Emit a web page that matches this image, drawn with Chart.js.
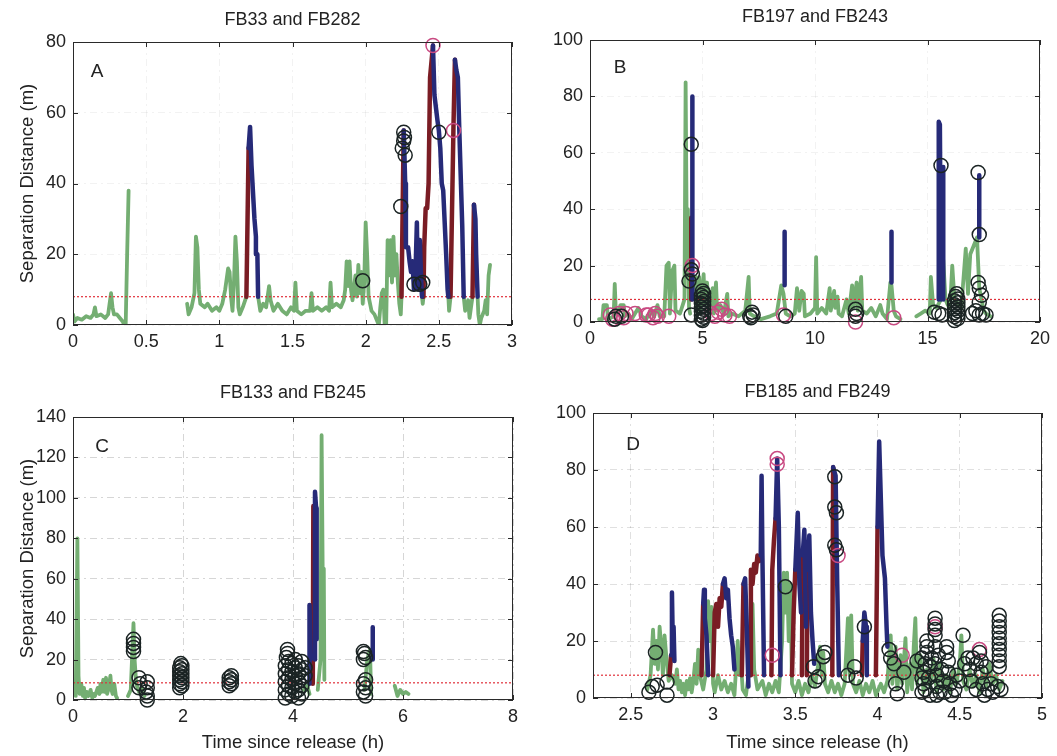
<!DOCTYPE html>
<html><head><meta charset="utf-8">
<script src="https://cdn.jsdelivr.net/npm/chart.js"></script>
<style>
html,body{margin:0;padding:0;background:#fff;}
#wrap{position:relative;width:1057px;height:756px;overflow:hidden;background:#fff;}
canvas{position:absolute;}
</style></head><body><div id="wrap">
<canvas id="cA" width="530" height="360" style="left:0;top:0"></canvas>
<canvas id="cB" width="527" height="360" style="left:530px;top:0"></canvas>
<canvas id="cC" width="530" height="396" style="left:0;top:360px"></canvas>
<canvas id="cD" width="527" height="396" style="left:530px;top:360px"></canvas>
</div>
<script>
// ---------- Panel A : FB33 and FB282 ----------
const aTitle = 'FB33 and FB282';
const aXTicks = [0, 0.5, 1, 1.5, 2, 2.5, 3];
const aYTicks = [0, 20, 40, 60, 80];
const aThreshold = 8;
const aGreen = [[0,3],[0.01,1],[0.03,2],[0.06,1.5],[0.09,2.5],[0.12,2],[0.14,3],[0.15,5],[0.16,2.5],[0.19,3],[0.22,2],[0.24,3],[0.25,6],[0.26,9],[0.27,5],[0.28,3],[0.3,3],[0.32,2],[0.34,1],[0.35,0],[0.36,0],[0.37,20],[0.38,38], null,
 [0.78,6],[0.79,3],[0.81,5],[0.83,9],[0.84,25],[0.85,22],[0.86,10],[0.87,6],[0.9,5],[0.92,6],[0.95,4],[0.98,5],[1.0,4],[1.02,6],[1.04,10],[1.06,16],[1.07,15],[1.08,8],[1.09,4],[1.1,12],[1.11,25],[1.12,18],[1.13,5],[1.14,3],[1.16,5],[1.185,8], null,
 [1.265,8],[1.28,4],[1.3,6],[1.32,5],[1.34,11],[1.35,7],[1.37,4],[1.4,6],[1.43,4],[1.46,3],[1.49,5],[1.51,4],[1.52,12],[1.53,4],[1.56,3],[1.59,4],[1.62,4],[1.63,9],[1.64,4],[1.67,5],[1.7,4],[1.73,5],[1.75,4],[1.76,12],[1.77,5],[1.8,6],[1.83,5],[1.85,7],[1.86,10],[1.87,18],[1.88,11],[1.89,18],[1.9,10],[1.91,7],[1.93,14],[1.94,8],[1.95,17],[1.96,9],[1.97,15],[1.98,6],[1.99,12],[2.0,29],[2.01,20],[2.02,8],[2.04,4],[2.06,3],[2.08,1],[2.09,0],[2.1,5],[2.11,9],[2.12,10],[2.13,0],[2.14,0],[2.15,24],[2.16,14],[2.17,24],[2.18,12],[2.19,25],[2.2,14],[2.21,20],[2.22,12],[2.23,6],[2.24,3],[2.245,8], null,
 [2.385,8],[2.39,6],[2.395,8], null,
 [2.565,8],[2.57,4],[2.58,8], null,
 [2.67,8],[2.68,4],[2.7,7],[2.71,2],[2.72,5],[2.73,8], null,
 [2.765,8],[2.77,3],[2.78,0],[2.79,2],[2.81,4],[2.82,7],[2.83,3],[2.84,14],[2.85,17]];
const aRed = [[1.185,8],[1.2,50], null,
 [2.245,8],[2.255,40],[2.26,55], null,
 [2.395,8],[2.4,22],[2.41,33],[2.42,33],[2.43,40],[2.44,70],[2.46,79], null,
 [2.58,8],[2.6,56],[2.61,75], null,
 [2.73,8],[2.74,34]];
const aBlue = [[1.2,50],[1.21,56],[1.22,45],[1.24,30],[1.25,25],[1.25,20],[1.26,20],[1.265,8], null,
 [2.26,55],[2.265,48],[2.27,40],[2.275,22],[2.29,22],[2.3,18],[2.31,15],[2.32,18],[2.33,10],[2.34,14],[2.35,29],[2.355,15],[2.36,10],[2.37,24],[2.38,12],[2.385,8], null,
 [2.46,79],[2.47,65],[2.49,58],[2.5,55],[2.51,50],[2.52,40],[2.53,38],[2.55,20],[2.56,10],[2.565,8], null,
 [2.61,75],[2.62,72],[2.63,70],[2.64,55],[2.66,28],[2.67,8], null,
 [2.74,34],[2.75,30],[2.755,20],[2.765,8]];
const aCirc = [[1.98,12.5],[2.24,33.5],[2.25,50],[2.26,52],[2.26,54.5],[2.265,53],[2.27,48],[2.33,11.5],[2.37,11.5],[2.39,12],[2.5,54.5]];
const aCircM = [[2.46,79],[2.6,55]];

// ---------- Panel B : FB197 and FB243 ----------
const bTitle = 'FB197 and FB243';
const bXTicks = [0, 5, 10, 15, 20];
const bYTicks = [0, 20, 40, 60, 80, 100];
const bThreshold = 8;
const bGreen = [[0.4,1],[0.55,1],[0.6,6],[0.75,6],[0.8,1],[1.05,2],[1.1,13.5],[1.15,3],[1.3,4],[1.35,6],[1.5,6],[1.55,2],[1.7,3],[1.85,1],[2.0,3],[2.15,5],[2.3,2],[2.5,1],[2.7,4],[2.85,2],[3.0,6],[3.1,2],[3.3,2],[3.4,20],[3.5,21],[3.55,3],[3.65,18],[3.75,20],[3.8,4],[4.0,3],[4.2,8],[4.25,85],[4.3,30],[4.35,40],[4.4,5],[4.45,3], null,
 [4.65,8],[4.7,16],[4.75,5],[4.85,16],[4.9,3],[5.05,17],[5.1,6],[5.2,14],[5.3,4],[5.45,12],[5.5,3],[5.6,14],[5.65,4],[5.8,6],[5.95,3],[6.1,10],[6.15,2],[6.3,3],[6.6,2],[6.9,4],[7.0,12],[7.05,16],[7.1,3],[7.3,2],[7.6,1],[8.0,2],[8.3,3],[8.5,13],[8.6,10],[8.7,3],[8.9,2],[9.1,3],[9.2,12],[9.3,4],[9.4,11],[9.5,10],[9.55,2],[9.8,3],[10.0,5],[10.05,23],[10.1,3],[10.3,5],[10.5,3],[10.65,12],[10.7,4],[10.85,11],[10.9,5],[11.0,9],[11.05,3],[11.2,2],[11.4,8],[11.5,3],[11.65,13],[11.7,5],[11.85,14],[11.9,4],[12.05,16],[12.1,4],[12.3,3],[12.5,5],[12.7,2],[12.9,6],[13.0,3],[13.2,1],[13.35,14],[13.4,13],[13.5,4],[13.6,2],[13.8,1], null,
 [14.5,2],[14.7,3],[14.9,4],[15.1,3],[15.15,16],[15.25,6],[15.4,5],[15.6,8],[15.7,22],[15.8,8],[15.9,6],[16.0,5],[16.1,20],[16.2,8],[16.3,7],[16.5,5],[16.7,26],[16.8,10],[16.9,24],[17.0,26],[17.2,30],[17.3,12],[17.4,8],[17.5,4],[17.6,3],[17.8,2]];
const bRed = [[4.5,8],[4.5,37]];
const bBlue = [[4.55,8],[4.55,80], null,[8.65,13],[8.65,32], null,[13.4,14],[13.4,32], null,[15.5,8],[15.5,71],[15.55,70],[15.6,8], null,[15.7,8],[15.7,55], null,[17.3,30],[17.3,52]];
const bCirc = [[1.1,1],[1.15,2],[1.4,2],[4.5,63],[4.5,18.5],[4.55,17],[4.4,14.5],[4.5,2.5],
 [4.95,1],[5.05,1.7],[4.95,2.4],[5.05,3.1],[4.95,3.8],[5.05,4.5],[4.95,5.2],[5.05,5.9],[4.95,6.6],[5.05,7.3],[4.95,8],[5.05,8.7],[4.95,9.4],[5.05,10.1],[5.0,11],[5.0,0.5],
 [7.15,1.5],[7.25,2.5],[7.2,3.5],[7.1,2],[8.7,2],[11.8,2],[11.85,3],[11.8,4.5],
 [15.3,3.5],[15.5,3],[15.65,2.5],[15.6,55.5],
 [16.2,0.5],[16.35,1.2],[16.2,1.9],[16.35,2.6],[16.2,3.3],[16.35,4],[16.2,4.7],[16.35,5.4],[16.2,6.1],[16.35,6.8],[16.2,7.5],[16.35,8.2],[16.25,9],[16.3,10],
 [17.0,3],[17.15,4],[17.3,2.5],[17.45,3],[17.6,2.5],[17.25,53],[17.3,31],[17.25,14],[17.3,12],[17.4,9.5],[17.3,7]];
const bCircM = [[0.9,2.5],[1.0,1],[1.3,3],[1.5,1.5],[1.6,3],[2.0,3],[2.5,2.5],[2.6,2.5],[2.8,1.5],[2.9,3],[3.0,2],[3.5,2],[4.55,20],[5.4,3],[5.55,2],[5.7,3.5],[5.85,4.5],[6.0,2.5],[6.2,2],[8.6,2.5],[11.8,0],[13.5,1.5]];

// ---------- Panel C : FB133 and FB245 ----------
const cTitle = 'FB133 and FB245';
const cXTicks = [0, 2, 4, 6, 8];
const cYTicks = [0, 20, 40, 60, 80, 100, 120, 140];
const cThreshold = 8.5;
const cGreen = [[0.05,2],[0.08,80],[0.1,12],[0.12,3],[0.15,8],[0.18,2],[0.2,6],[0.22,1],[0.25,4],[0.28,2],[0.32,5],[0.35,1],[0.38,3],[0.4,2],[0.45,6],[0.48,3],[0.5,8],[0.52,4],[0.55,10],[0.57,4],[0.6,11],[0.62,3],[0.65,6],[0.68,12],[0.7,5],[0.72,3],[0.75,8],[0.78,2],[0.8,1], null,
 [1.0,2],[1.05,5],[1.1,38],[1.12,20],[1.15,8],[1.2,4],[1.25,6],[1.3,2], null,
 [4.2,5],[4.25,8],[4.3,3], null,
 [4.45,5],[4.5,20],[4.52,131],[4.54,63],[4.56,65],[4.57,10], null,
 [5.3,5],[5.35,20],[5.4,25],[5.42,3], null,
 [5.85,7],[5.9,2],[5.95,5],[6.0,3],[6.05,4],[6.1,3]];
const cRed = [[4.36,8],[4.37,96]];
const cBlue = [[4.3,8],[4.3,47],[4.32,20], null,[4.4,20],[4.4,103],[4.42,95],[4.43,30], null,[5.45,20],[5.45,36]];
const cCirc = [[1.1,24],[1.1,26],[1.1,28],[1.1,30],
 [1.2,11],[1.22,8],[1.2,6],
 [1.35,9],[1.35,6],[1.33,4],[1.35,2],[1.35,0],
 [1.94,6],[1.98,7],[1.94,8],[1.98,9],[1.94,10],[1.98,11],[1.94,12],[1.98,13],[1.94,14],[1.98,15],[1.94,16],[1.98,17],[1.96,18],
 [2.84,7],[2.88,8],[2.84,9],[2.88,10],[2.84,11],[2.88,12],
 [3.9,25],[3.9,23],[3.88,21],
 [3.86,1],[3.92,3],[3.86,5],[3.92,7],[3.86,9],[3.92,11],[3.86,13],[3.92,15],[3.86,17],[3.92,19],
 [3.98,2],[4.04,4],[3.98,6],[4.04,8],[3.98,10],[4.04,12],[3.98,14],[4.04,16],[3.98,18],[4.04,20],
 [4.1,1],[4.16,3],[4.1,5],[4.16,7],[4.1,9],[4.16,11],[4.1,13],[4.16,15],[4.1,17],[4.16,19],[4.22,12],[4.22,16],
 [5.28,20],[5.32,21],[5.3,23],[5.28,24],[5.32,2],[5.28,4],[5.32,6],[5.28,8],[5.32,10]];
const cCircM = [];

// ---------- Panel D : FB185 and FB249 ----------
const dTitle = 'FB185 and FB249';
const dXTicks = [2.5, 3, 3.5, 4, 4.5, 5];
const dYTicks = [0, 20, 40, 60, 80, 100];
const dThreshold = 8;
const dGreen = [[2.6,3],[2.62,8],[2.635,24],[2.645,12],[2.655,20],[2.665,10],[2.675,25],[2.685,18],[2.695,8],[2.705,22],[2.715,15],[2.73,6],[2.75,8],[2.77,5],[2.78,10],[2.79,3],[2.8,6],[2.81,2],[2.82,5],[2.83,1],[2.84,6],[2.85,3],[2.86,7],[2.87,2],[2.88,6],[2.89,12],[2.9,5],[2.91,17],[2.92,8],[2.94,3],[2.96,10],[2.97,34],[2.98,20],[2.99,32],[3.0,5],[3.01,2],[3.03,8],[3.05,3],[3.07,6],[3.09,2],[3.11,5],[3.13,1],[3.15,20],[3.16,8],[3.17,12],[3.18,3],[3.2,1],[3.22,10],[3.23,30],[3.24,33],[3.25,10],[3.27,3],[3.3,6],[3.32,1],[3.34,5],[3.36,2],[3.38,6],[3.4,2],[3.42,20],[3.43,44],[3.44,30],[3.45,44],[3.46,20],[3.47,40],[3.48,5],[3.5,2],[3.52,6],[3.54,1],[3.56,5],[3.58,2],[3.6,8],[3.62,4],[3.64,12],[3.65,18],[3.66,8],[3.67,16],[3.68,5],[3.7,2],[3.72,6],[3.74,2],[3.76,5],[3.78,1],[3.8,5],[3.82,28],[3.83,8],[3.84,29],[3.85,5],[3.87,2],[3.89,6],[3.91,1],[3.93,5],[3.95,2],[3.97,6],[3.99,1],[4.02,5],[4.04,2],[4.06,6],[4.08,22],[4.09,5],[4.11,18],[4.12,3],[4.14,15],[4.15,5],[4.17,21],[4.18,2],[4.2,12],[4.21,3],[4.22,18],[4.23,28],[4.24,5],[4.26,15],[4.28,2],[4.3,10],[4.32,4],[4.34,14],[4.36,2],[4.38,12],[4.4,3],[4.42,8],[4.44,2],[4.46,10],[4.48,5],[4.5,12],[4.51,22],[4.52,6],[4.54,3],[4.56,10],[4.58,4],[4.6,8],[4.62,2],[4.64,10],[4.66,4],[4.68,12],[4.7,5],[4.72,8],[4.74,3],[4.76,6]];
const dRed = [[2.735,8],[2.745,15], null,
 [2.93,8],[2.94,33], null,
 [3.0,8],[3.01,30],[3.02,33],[3.03,25],[3.04,35],[3.05,32],[3.06,40], null,
 [3.175,8],[3.185,40], null,
 [3.225,8],[3.23,45],[3.24,40],[3.25,47],[3.26,44],[3.27,50],[3.28,48],[3.29,50], null,
 [3.355,8],[3.36,45],[3.37,55],[3.38,63], null,
 [3.48,8],[3.49,30],[3.5,45], null,
 [3.54,8],[3.545,50], null,
 [3.57,8],[3.575,45], null,
 [3.725,8],[3.73,81], null,
 [3.905,8],[3.91,20], null,
 [3.99,8],[4.0,60]];
const dBlue = [[2.745,15],[2.75,37],[2.755,20],[2.76,25],[2.765,13], null,
 [2.94,33],[2.945,38],[2.95,28],[2.96,22],[2.97,8], null,
 [3.06,40],[3.07,42],[3.08,35],[3.09,38],[3.1,28],[3.11,22],[3.12,18],[3.13,10], null,
 [3.185,40],[3.195,42],[3.205,25],[3.215,4], null,
 [3.29,50],[3.295,78],[3.3,50],[3.31,8], null,
 [3.38,63],[3.39,84],[3.4,60],[3.41,8], null,
 [3.5,45],[3.515,65],[3.525,40],[3.535,30], null,
 [3.545,50],[3.555,59],[3.565,25], null,
 [3.575,45],[3.585,57],[3.595,30],[3.605,20],[3.615,12], null,
 [3.73,81],[3.745,78],[3.755,40],[3.765,8], null,
 [3.91,20],[3.92,30],[3.93,25],[3.935,8], null,
 [4.0,60],[4.01,90],[4.02,70],[4.03,50],[4.045,42],[4.055,25],[4.06,18]];
const dCirc = [[2.65,16],[2.61,2],[2.63,4],[2.66,4.5],[2.72,5.6],[2.72,1],[3.44,39],[3.61,11],[3.62,6],[3.64,7.5],[3.67,14.5],[3.68,16],
 [3.74,77.6],[3.74,67],[3.75,65],[3.74,53.6],[3.75,52],[3.82,8],[3.87,7],[3.86,11],[3.92,25],
 [4.07,17],[4.08,14],[4.1,12],[4.11,5],[4.12,1.5],[4.16,9],[4.24,13],
 [4.27,2],[4.28,5],[4.28,9],[4.29,12],[4.3,16],[4.3,20],[4.29,3],[4.31,7],[4.32,11],[4.32,1],[4.33,14],[4.3,18],[4.27,14],[4.27,7],
 [4.35,28],[4.35,26],[4.35,24],[4.35,22],[4.35,18],[4.35,12],[4.36,8],[4.36,4],[4.36,1],[4.37,15],[4.38,2],
 [4.39,10],[4.4,6],[4.41,2],[4.42,18],[4.42,16],[4.43,13],[4.43,9],[4.44,5],[4.45,1],[4.47,3],
 [4.48,8],[4.5,6],[4.52,22],[4.53,12],[4.55,14],[4.56,10],[4.57,6],[4.58,14],[4.6,12],[4.6,3],[4.62,16],[4.63,13],[4.63,9],[4.64,5],[4.65,1],[4.66,11],[4.67,3],[4.69,5],[4.7,2],
 [4.74,29],[4.74,27],[4.74,25],[4.74,23],[4.74,21],[4.74,19],[4.74,17],[4.74,15],[4.74,13],[4.74,11],[4.73,4],[4.75,3]];
const dCircM = [[3.39,82],[3.39,84],[3.36,15],[3.76,50],[4.15,15],[4.35,25],[4.62,17]];

const yTitleText = 'Separation Distance (m)';
const xTitleText = 'Time since release (h)';

// ---------- rendering ----------
const FONT = '"Liberation Sans", Arial, Helvetica, sans-serif';
Chart.defaults.font.family = FONT;
Chart.defaults.color = '#222';

function pts(arr) {
  return arr.map((p, i) => p ? {x: p[0], y: p[1]} : {x: arr[i - 1][0], y: null});
}
function fmt(v) { return String(Math.round(v * 100) / 100); }

const framePlugin = {
  id: 'frame',
  afterDraw(chart, args, o) {
    const {ctx, chartArea: a, scales} = chart;
    ctx.save();
    ctx.strokeStyle = '#2a2a2a';
    ctx.lineWidth = 1;
    ctx.strokeRect(a.left + 0.5, a.top + 0.5, a.right - a.left - 1, a.bottom - a.top - 1);
    const tl = 5;
    ctx.beginPath();
    scales.x.ticks.forEach(t => {
      const px = Math.round(scales.x.getPixelForValue(t.value)) + 0.5;
      ctx.moveTo(px, a.bottom); ctx.lineTo(px, a.bottom - tl);
      ctx.moveTo(px, a.top); ctx.lineTo(px, a.top + tl);
    });
    scales.y.ticks.forEach(t => {
      const py = Math.round(scales.y.getPixelForValue(t.value)) + 0.5;
      ctx.moveTo(a.left, py); ctx.lineTo(a.left + tl, py);
      ctx.moveTo(a.right, py); ctx.lineTo(a.right - tl, py);
    });
    ctx.stroke();
    ctx.fillStyle = '#222';
    ctx.font = '19px ' + FONT;
    ctx.textAlign = 'center';
    ctx.textBaseline = 'middle';
    ctx.fillText(o.letter, o.lx, o.ly);
    ctx.restore();
  }
};

function makePanel(L, D) {
  const lineDs = (data, color, w) => ({type: 'line', data: pts(data), borderColor: color, borderWidth: w,
    pointRadius: 0, tension: 0, spanGaps: false, fill: false, borderJoinStyle: 'round', borderCapStyle: 'round'});
  const circDs = (data, color) => ({type: 'scatter', data: pts(data), borderColor: color,
    backgroundColor: 'rgba(0,0,0,0)', borderWidth: 1.5, pointRadius: 7, pointStyle: 'circle', clip: false});
  const datasets = [
    circDs(D.circ, '#1b2424'),
    circDs(D.circM, '#c94a82'),
    lineDs(D.blue, '#262a78', 4.5),
    lineDs(D.red, '#7a1c24', 4.5),
    {type: 'line', data: [{x: L.xMin, y: D.thr}, {x: L.xMax, y: D.thr}], borderColor: '#e0303a',
      borderWidth: 1.2, borderDash: [2, 2], pointRadius: 0, fill: false},
    lineDs(D.green, '#74ae72', 3.8)
  ];
  return new Chart(document.getElementById(L.id), {
    type: 'line',
    data: {datasets},
    plugins: [framePlugin],
    options: {
      responsive: false, animation: false, events: [],
      layout: {padding: {left: 0, right: L.padR, top: 0, bottom: 0}},
      plugins: {
        legend: {display: false}, tooltip: {enabled: false},
        title: {display: true, fullSize: false, text: D.title, color: '#222', font: {size: 18, weight: 'normal'},
          padding: {top: L.tp, bottom: L.tb}},
        frame: {letter: L.letter, lx: L.lx, ly: L.ly}
      },
      scales: {
        x: {
          type: 'linear', min: L.xMin, max: L.xMax,
          afterBuildTicks: s => { s.ticks = D.xTicks.map(v => ({value: v})); },
          afterFit: s => { s.height = L.xh; },
          ticks: {font: {size: 18}, color: '#222', padding: 6, maxRotation: 0, autoSkip: false, callback: v => fmt(v)},
          grid: {color: L.gridCol, drawTicks: false, lineWidth: 1},
          border: {display: false, dash: [7, 4, 2, 4]},
          title: {display: L.xTitle, text: xTitleText, color: '#222', font: {size: 18.5}, padding: {top: 4, bottom: 2}}
        },
        y: {
          type: 'linear', min: D.yTicks[0], max: D.yTicks[D.yTicks.length - 1],
          afterBuildTicks: s => { s.ticks = D.yTicks.map(v => ({value: v})); },
          afterFit: s => { s.width = L.yw; },
          ticks: {font: {size: 18}, color: '#222', padding: 7, autoSkip: false, callback: v => fmt(v)},
          grid: {color: L.gridCol, drawTicks: false, lineWidth: 1},
          border: {display: false, dash: [7, 4, 2, 4]},
          title: {display: L.yTitle, text: yTitleText, color: '#222', font: {size: 18.5}, padding: {top: 17, bottom: 4}}
        }
      }
    }
  });
}

makePanel({id: 'cA', xMin: 0, xMax: 3, padR: 18, tp: 9.2, tb: 11.2, xh: 35, yw: 73, xTitle: false, yTitle: true,
  letter: 'A', lx: 97, ly: 72, gridCol: 'rgba(0,0,0,0.05)'},
  {title: aTitle, xTicks: aXTicks, yTicks: aYTicks, thr: aThreshold, green: aGreen, red: aRed, blue: aBlue, circ: aCirc, circM: aCircM});
makePanel({id: 'cB', xMin: 0, xMax: 20, padR: 17, tp: 6.2, tb: 12.2, xh: 38, yw: 60, xTitle: false, yTitle: false,
  letter: 'B', lx: 90, ly: 68, gridCol: 'rgba(0,0,0,0.05)'},
  {title: bTitle, xTicks: bXTicks, yTicks: bYTicks, thr: bThreshold, green: bGreen, red: bRed, blue: bBlue, circ: bCirc, circM: bCircM});
makePanel({id: 'cC', xMin: 0, xMax: 8, padR: 17, tp: 22.2, tb: 13.2, xh: 56, yw: 73, xTitle: true, yTitle: true,
  letter: 'C', lx: 102, ly: 87, gridCol: 'rgba(0,0,0,0.16)'},
  {title: cTitle, xTicks: cXTicks, yTicks: cYTicks, thr: cThreshold, green: cGreen, red: cRed, blue: cBlue, circ: cCirc, circM: cCircM});
makePanel({id: 'cD', xMin: 2.27, xMax: 5, padR: 15, tp: 21.2, tb: 10.2, xh: 58, yw: 63, xTitle: true, yTitle: false,
  letter: 'D', lx: 103, ly: 85, gridCol: 'rgba(0,0,0,0.12)'},
  {title: dTitle, xTicks: dXTicks, yTicks: dYTicks, thr: dThreshold, green: dGreen, red: dRed, blue: dBlue, circ: dCirc, circM: dCircM});
</script>
</body></html>
